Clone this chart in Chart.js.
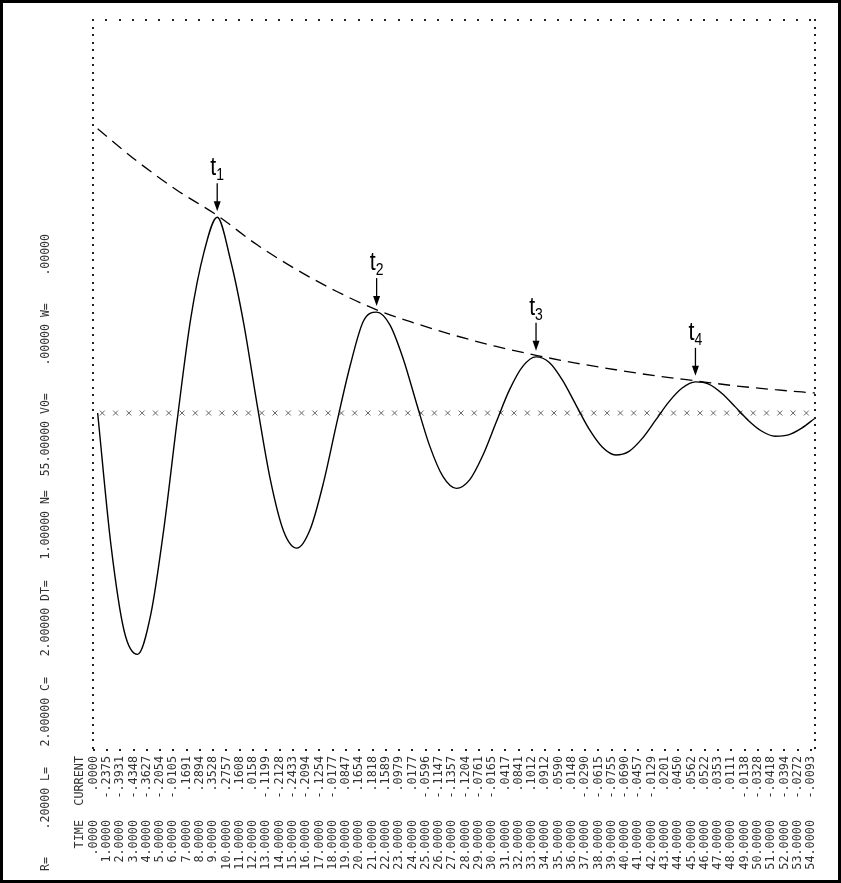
<!DOCTYPE html>
<html>
<head>
<meta charset="utf-8">
<script src="https://cdn.jsdelivr.net/npm/chart.js@4/dist/chart.umd.min.js"></script>
<style>
  html, body { margin: 0; padding: 0; background: #fff; }
  canvas { display: block; }
</style>
</head>
<body>
<canvas id="c" width="841" height="883"></canvas>
<script>
// Series RLC discharge: sampled current, one value per time step
const times = [0, 1, 2, 3, 4, 5, 6, 7, 8, 9, 10, 11, 12, 13, 14, 15, 16, 17, 18, 19,
  20, 21, 22, 23, 24, 25, 26, 27, 28, 29, 30, 31, 32, 33, 34, 35, 36, 37, 38, 39,
  40, 41, 42, 43, 44, 45, 46, 47, 48, 49, 50, 51, 52, 53, 54];
const current = [0.0000, -0.2375, -0.3931, -0.4348, -0.3627, -0.2054, -0.0105, 0.1691, 0.2894, 0.3528,
  0.2757, 0.1608, 0.0158, -0.1199, -0.2128, -0.2433, -0.2094, -0.1254, -0.0177, 0.0847,
  0.1654, 0.1818, 0.1589, 0.0979, 0.0177, -0.0596, -0.1147, -0.1357, -0.1204, -0.0761,
  -0.0165, 0.0417, 0.0841, 0.1012, 0.0912, 0.0590, 0.0148, -0.0290, -0.0615, -0.0755,
  -0.0690, -0.0457, -0.0129, 0.0201, 0.0450, 0.0562, 0.0522, 0.0353, 0.0111, -0.0138,
  -0.0328, -0.0418, -0.0394, -0.0272, -0.0093];

// Decay envelope (dashed), touching the positive peaks
const envelopeTimes = [0, 3, 6, 9, 12, 15, 18, 21, 24, 27, 30, 33, 36, 39, 42, 45, 48, 51, 54];
const envelopeValues = [0.512, 0.453, 0.401, 0.356, 0.303, 0.258, 0.219, 0.186, 0.161, 0.139,
  0.120, 0.104, 0.090, 0.078, 0.067, 0.058, 0.049, 0.042, 0.036];

// Zero reference marks (x) along the time axis
const zeroMarkTimes = [0.35, 1.35, 2.35, 3.35, 4.35, 5.35, 6.35, 7.35, 8.35, 9.35, 10.35, 11.35,
  12.35, 13.35, 14.35, 15.35, 16.35, 17.35, 18.35, 19.35, 20.35, 21.35, 22.35, 23.35, 24.35,
  25.35, 26.35, 27.35, 28.35, 29.35, 30.35, 31.35, 32.35, 33.35, 34.35, 35.35, 36.35, 37.35,
  38.35, 39.35, 40.35, 41.35, 42.35, 43.35, 44.35, 45.35, 46.35, 47.35, 48.35, 49.35, 50.35,
  51.35, 52.35, 53.35];

// Peak markers t1..t4
const peakTimes = [9, 21, 33, 45];
const peakSubscripts = ['1', '2', '3', '4'];

// Run parameters and table headers
const paramText = 'R=    .20000 L=   2.00000 C=   2.00000 DT=   1.00000 N=  55.00000 V0=    .00000 W=    .00000';
const headerTime = 'TIME';
const headerCurrent = 'CURRENT';

const MONO = '"DejaVu Sans Mono", "Liberation Mono", monospace';
const NARROW = '"Liberation Sans Narrow", "Liberation Sans", Arial, sans-serif';

function fmtTime(t) {
  return t === 0 ? '.0000' : t.toFixed(4);
}
function fmtCurrent(v) {
  const s = Math.abs(v).toFixed(4).replace(/^0\./, '.');
  return (v < 0 ? '-' : '') + s;
}

const decorations = {
  id: 'decorations',
  afterDraw(chart) {
    const ctx = chart.ctx;
    const xs = chart.scales.x, ys = chart.scales.y;
    const area = chart.chartArea;
    const step = xs.getPixelForValue(1) - xs.getPixelForValue(0);
    const colX = t => xs.getPixelForValue(t) - 4;

    ctx.save();
    // dotted frame
    ctx.fillStyle = '#222';
    const dot = (x, y) => ctx.fillRect(Math.round(x) - 1, Math.round(y) - 1, 2, 2);
    for (let y = area.top; y <= area.bottom + 0.5; y += 7.5) {
      dot(area.left, y);
      dot(area.right, y);
    }
    for (let x = area.left; x < area.right - 3; x += step) dot(x, area.top);
    for (let i = 0; i < times.length; i++) dot(colX(i), area.bottom);

    // table under the plot: time and current columns, rotated
    ctx.fillStyle = '#333';
    ctx.font = '11.8px ' + MONO;
    ctx.textAlign = 'right';
    ctx.textBaseline = 'middle';
    const curTop = area.bottom + 6;
    const timeTop = area.bottom + 70;
    const drawUp = (s, x, y) => {
      ctx.save();
      ctx.translate(x, y);
      ctx.rotate(-Math.PI / 2);
      ctx.fillText(s, 0, 0);
      ctx.restore();
    };
    drawUp(headerTime, colX(-1), timeTop);
    drawUp(headerCurrent, colX(-1), curTop);
    times.forEach((t, i) => {
      drawUp(fmtTime(t), colX(t), timeTop);
      drawUp(fmtCurrent(current[i]), colX(t), curTop);
    });

    // run parameters along the left edge
    ctx.save();
    ctx.translate(46, 871);
    ctx.rotate(-Math.PI / 2);
    ctx.textAlign = 'left';
    ctx.font = '11.5px ' + MONO;
    ctx.fillText(paramText, 0, 0);
    ctx.restore();

    // t1..t4 labels with arrows
    ctx.fillStyle = '#000';
    ctx.strokeStyle = '#000';
    ctx.lineWidth = 1.3;
    peakTimes.forEach((t, i) => {
      const px = xs.getPixelForValue(t);
      const py = ys.getPixelForValue(current[times.indexOf(t)]);
      const tip = py - 6, tail = py - 34;
      ctx.beginPath();
      ctx.moveTo(px, tail);
      ctx.lineTo(px, tip - 8);
      ctx.stroke();
      ctx.beginPath();
      ctx.moveTo(px - 3.5, tip - 10);
      ctx.lineTo(px + 3.5, tip - 10);
      ctx.lineTo(px, tip);
      ctx.closePath();
      ctx.fill();

      // narrow "t" with a subscript index
      ctx.save();
      ctx.translate(px, py - 42);
      ctx.scale(0.82, 1);
      ctx.textAlign = 'left';
      ctx.textBaseline = 'alphabetic';
      ctx.font = '26px ' + NARROW;
      const w = ctx.measureText('t').width;
      ctx.font = '17px ' + NARROW;
      const ws = ctx.measureText(peakSubscripts[i]).width;
      const x0 = -(w + ws) / 2;
      ctx.font = '26px ' + NARROW;
      ctx.fillText('t', x0, 0);
      ctx.font = '17px ' + NARROW;
      ctx.fillText(peakSubscripts[i], x0 + w, 5);
      ctx.restore();
    });

    // outer border
    ctx.lineWidth = 3;
    ctx.strokeRect(1.5, 1.5, chart.width - 3, chart.height - 3);
    ctx.restore();
  }
};

new Chart(document.getElementById('c'), {
  type: 'line',
  data: {
    datasets: [
      {
        label: 'CURRENT',
        data: times.map((t, i) => ({ x: t, y: current[i] })),
        borderColor: '#000',
        borderWidth: 1.4,
        pointRadius: 0,
        cubicInterpolationMode: 'monotone',
        fill: false
      },
      {
        label: 'envelope',
        data: envelopeTimes.map((t, i) => ({ x: t, y: envelopeValues[i] })),
        borderColor: '#000',
        borderWidth: 1.3,
        borderDash: [12, 7],
        pointRadius: 0,
        cubicInterpolationMode: 'monotone',
        fill: false
      },
      {
        label: 'zero',
        data: zeroMarkTimes.map(t => ({ x: t, y: 0 })),
        showLine: false,
        pointStyle: 'crossRot',
        pointRadius: 3.5,
        borderColor: '#666',
        borderWidth: 1,
        backgroundColor: '#666'
      }
    ]
  },
  options: {
    responsive: false,
    animation: false,
    devicePixelRatio: 1,
    layout: { padding: { left: 93, top: 20, right: 26, bottom: 133 } },
    plugins: { legend: { display: false }, tooltip: { enabled: false } },
    scales: {
      x: { type: 'linear', min: -0.35, max: 54, display: false },
      y: { type: 'linear', min: -0.607, max: 0.708, display: false }
    }
  },
  plugins: [decorations]
});
</script>
</body>
</html>
